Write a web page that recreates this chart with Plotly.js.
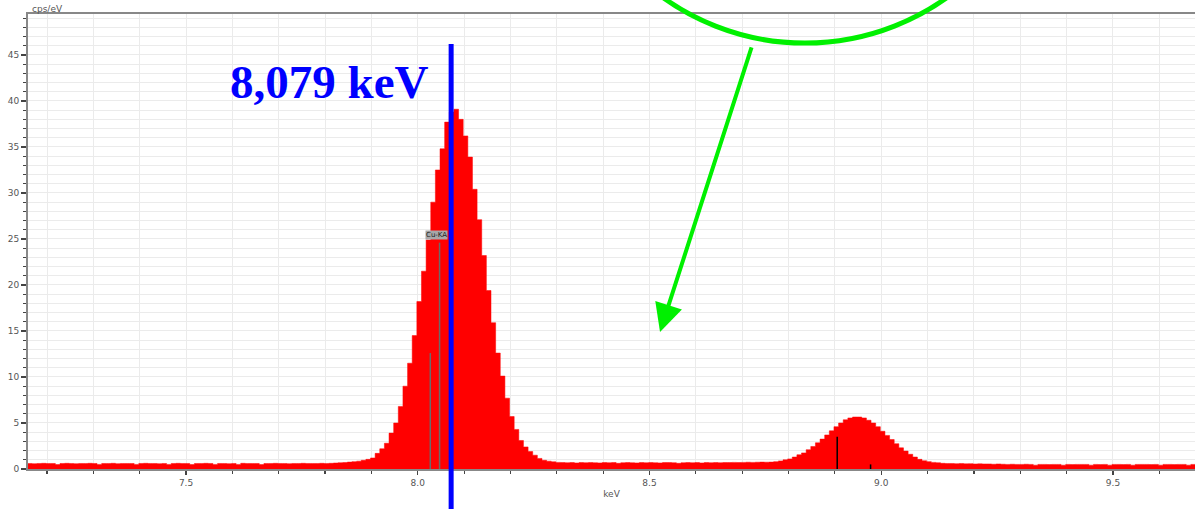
<!DOCTYPE html>
<html>
<head>
<meta charset="utf-8">
<script src="https://cdn.plot.ly/plotly-3.0.1.min.js"></script>
<style>html,body{margin:0;padding:0;background:#fff;}#chart{width:1195px;height:509px;}</style>
</head>
<body>
<div id="chart"></div>
<script>
// ---- data (cps/eV per 10 eV channel, first channel centre 7.153 keV) ----
var firstChannelKeV = 7.153;
var channelWidthKeV = 0.01;

var lowTail = [0.6,0.6,0.58,0.6,0.62,0.6,0.6,0.48,0.6,0.62,0.6,
               0.58,0.6,0.6,0.62,0.6,0.5,0.6,0.6,0.62,0.58,
               0.6,0.6,0.6,0.5,0.6,0.62,0.6,0.6,0.58,0.6,
               0.5,0.6,0.62,0.6,0.6,0.48,0.6,0.6,0.62,0.6,
               0.5,0.6,0.6,0.58,0.6,0.5,0.62,0.6,0.6,0.6,
               0.48,0.6,0.6,0.62,0.6,0.6,0.58,0.6,0.6,0.62,
               0.6,0.6,0.6,0.62,0.6];
var leftRise = [0.62,0.65,0.68,0.7,0.75,0.8,0.85,0.95,1.05,1.2];
var cuKaPeak = [1.7,2.2,2.8,3.9,5.0,6.8,9.0,11.5,14.5,18.2,
                21.5,24.9,29.0,32.5,34.8,37.7,38.8,39.1,38.0,36.2,
                33.9,30.4,27.1,23.2,19.4,15.9,12.6,10.1,7.7,5.7,
                4.3,3.1,2.4,1.9,1.5,1.15,0.95,0.85,0.78,0.72];
var midFlat = [0.7,0.68,0.7,0.66,0.7,0.68,0.7,0.68,0.66,0.7,
               0.68,0.7,0.62,0.68,0.7,0.68,0.66,0.7,0.68,0.7,
               0.68,0.66,0.7,0.7,0.68,0.62,0.68,0.7,0.68,0.7,
               0.66,0.7,0.68,0.7,0.68,0.7,0.7,0.72,0.7,0.72,
               0.74,0.72,0.74,0.75,0.74];
var cuKbPeak = [0.75,0.8,0.88,1.0,1.1,1.3,1.55,1.75,2.1,2.45,
                2.85,3.25,3.7,4.15,4.6,5.0,5.35,5.55,5.65,5.65,
                5.55,5.3,5.0,4.6,4.1,3.65,3.2,2.75,2.3,1.95,
                1.6,1.3,1.05,0.9,0.8,0.72,0.68];
var highTail = [0.62,0.6,0.6,0.58,0.6,0.56,0.58,0.55,0.56,0.55,
                0.55,0.52,0.55,0.52,0.5,0.52,0.5,0.5,0.52,0.5,
                0.42,0.5,0.5,0.48,0.5,0.5,0.42,0.5,0.48,0.5,
                0.5,0.5,0.42,0.5,0.48,0.5,0.42,0.5,0.5,0.48,
                0.5,0.42,0.5,0.5,0.5,0.48,0.5,0.42,0.5,0.5,
                0.48,0.5,0.5,0.42,0.5,0.5];

// line markers (keV, height cps/eV)
var kaMarkerKeV = [8.027, 8.047];
var kaMarkerHeight = [12.6, 24.6];
var kbMarkerKeV = [8.905, 8.977];
var kbMarkerHeight = [3.5, 0.5];

var xTickVals = [7.5, 8.0, 8.5, 9.0, 9.5];
var xTickText = ["7.5", "8.0", "8.5", "9.0", "9.5"];
var yTickVals = [0, 5, 10, 15, 20, 25, 30, 35, 40, 45];
var yTickText = ["0", "5", "10", "15", "20", "25", "30", "35", "40", "45"];

var peakLabelKeV = 8.072;      // position of blue reference line
var peakLabelText = "8,079 keV";
var lineLabel = "Cu-KA";

// ---- build ----
var counts = [].concat(lowTail, leftRise, cuKaPeak, midFlat, cuKbPeak, highTail);

function stems(xs, hs) {
  var X = [], Y = [];
  for (var i = 0; i < xs.length; i++) { X.push(xs[i], xs[i], null); Y.push(0, hs[i], null); }
  return {x: X, y: Y};
}
var ka = stems(kaMarkerKeV, kaMarkerHeight);
var kb = stems(kbMarkerKeV, kbMarkerHeight);

var traces = [
  {type: 'scatter', mode: 'lines', x0: firstChannelKeV, dx: channelWidthKeV, y: counts,
   line: {shape: 'hvh', width: 0.5, color: '#ff0000'}, fill: 'tozeroy', fillcolor: '#ff0000',
   hoverinfo: 'skip'},
  {type: 'scatter', mode: 'lines', x: ka.x, y: ka.y, line: {color: '#6a6a6a', width: 1.5}, hoverinfo: 'skip'},
  {type: 'scatter', mode: 'lines', x: kb.x, y: kb.y, line: {color: '#000000', width: 1.5}, hoverinfo: 'skip'}
];

var gridCol = '#ebebeb';
var layout = {
  width: 1195, height: 509,
  margin: {l: 28, r: 0, t: 14, b: 40, pad: 0},
  paper_bgcolor: '#ffffff', plot_bgcolor: '#ffffff',
  showlegend: false,
  font: {family: 'DejaVu Sans, sans-serif', size: 9, color: '#555'},
  xaxis: {
    range: [7.159, 9.677], tickvals: xTickVals, ticktext: xTickText,
    ticks: 'outside', ticklen: 4, tickcolor: '#444', tickwidth: 1.2,
    showline: true, linecolor: '#888', linewidth: 2, mirror: true,
    showgrid: true, gridcolor: gridCol, gridwidth: 1, zeroline: false,
    minor: {dtick: 0.1, tick0: 7.5, ticks: 'outside', ticklen: 3, tickcolor: '#444', showgrid: true, gridcolor: gridCol},
    title: {text: 'keV', font: {size: 9, color: '#555'}, standoff: 4},
    tickfont: {size: 9, color: '#555'}
  },
  yaxis: {
    range: [0, 49.45], tickvals: yTickVals, ticktext: yTickText,
    ticks: 'outside', ticklen: 5, tickcolor: '#444', tickwidth: 1.2,
    showline: true, linecolor: '#888', linewidth: 2,
    showgrid: true, gridcolor: gridCol, zeroline: false,
    minor: {dtick: 1, tick0: 0, ticks: 'outside', ticklen: 3, tickcolor: '#444', showgrid: true, gridcolor: gridCol},
    tickfont: {size: 9, color: '#555'}
  },
  shapes: [
    {type: 'line', xref: 'x', yref: 'paper', x0: peakLabelKeV, x1: peakLabelKeV, y0: 0.934, y1: -0.1,
     line: {color: '#0000ff', width: 5}, layer: 'above'},
    {type: 'circle', xref: 'paper', yref: 'paper', x0: 0.4576, x1: 0.874, y0: 0.936, y1: 2.0,
     line: {color: '#00f000', width: 5}, layer: 'above'}
  ],
  annotations: [
    {xref: 'paper', yref: 'paper', x: 0.002, y: 1, xanchor: 'left', yanchor: 'bottom', yshift: -2,
     text: 'cps/eV', showarrow: false, font: {size: 9, color: '#555'}},
    {xref: 'x', yref: 'paper', x: peakLabelKeV, y: 0.85, xanchor: 'right', yanchor: 'middle', xshift: -20,
     text: '<b>' + peakLabelText + '</b>', showarrow: false,
     font: {family: 'Liberation Serif, Times New Roman, serif', size: 47, color: '#0000ff'}},
    {xref: 'x', yref: 'y', x: 8.0395, y: 25.4, text: lineLabel, showarrow: false,
     bgcolor: '#a8a8a8', borderpad: 0, font: {size: 7, color: '#222'}},
    {xref: 'x', yref: 'y', x: 8.5227, y: 14.9, text: '', showarrow: true,
     axref: 'pixel', ayref: 'pixel', ax: 92, ay: -286,
     arrowcolor: '#00f000', arrowwidth: 4, arrowhead: 2, arrowsize: 1.4, standoff: 0}
  ]
};

Plotly.newPlot('chart', traces, layout, {staticPlot: true, displayModeBar: false});
</script>
</body>
</html>
